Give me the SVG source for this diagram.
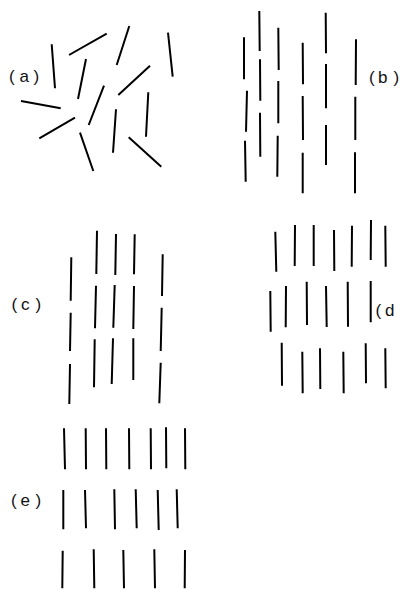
<svg xmlns="http://www.w3.org/2000/svg" width="400" height="590" viewBox="0 0 400 590">
<style>
.m{stroke:#000;stroke-width:2;fill:none;stroke-linecap:butt}
.lb{font-family:"Liberation Sans","DejaVu Sans",sans-serif;font-size:17px;fill:#111}
</style>
<rect width="400" height="590" fill="#fff"/>
<g id="panel-a">
<text class="lb" x="9 19.5 33.5" y="82">(a)</text>
<path class="m" d="M51.7,44.3L55,88.3M69,55L106.7,33.7M129.3,26L116.7,65M168,32.7L172.7,76.7M86,59L78,99M150,65.7L118.3,95M21,101L60.7,108.3M104,85.7L88.7,125M148.3,92.3L146,136.7M75,117.7L39.3,138.3M116,109.3L113,152.7M80,132.7L93.3,171M128.7,137.3L161.3,166.7"/>
</g>
<g id="panel-b">
<text class="lb" x="369 378 393.5" y="83">(b)</text>
<path class="m" d="M244,37.3L244,79.3M247,90.7L246,131.7M245,140.7L245.7,181.7
M259.3,11L259.7,51M260,59.3L260.3,100.7M260,112.7L260.3,156.7
M278.3,27.7L278.7,70M278.3,81L278.3,123.3M277.7,135.7L277.3,176.7
M302.7,42.7L303,84.3M302.7,96L303,140M302.7,152.7L302.7,193.3
M325.7,12.7L326,53.3M326,64L326,108.3M326,125L326,165
M356,39.3L355.7,85M355.3,96.7L355.3,140M355,152.3L355,193.3"/>
</g>
<g id="panel-c">
<text class="lb" x="11.5 21 35.5" y="310">(c)</text>
<path class="m" d="M71.3,257.3L70.7,300.7M70.7,312.7L70,351M70,364L69.3,404
M97,230.7L96.3,274M96,285.7L95,328.3M94.7,339.3L94,387.3
M116,234L115.3,275M114.7,285L113.3,327.7M113,338.3L111.7,384
M134.7,234.3L134,274.3M134,286L133.3,329M133.3,338.3L133.3,380
M162.7,254.3L162,296M161.7,307.7L160.7,351M160.7,362.7L159.3,403.3"/>
</g>
<g id="panel-d">
<text class="lb" x="375.5 385" y="315.5">(d</text>
<path class="m" d="M275.3,231.7L276.3,271.7M295,225L294.7,266M313.7,225L313.7,266M334,230L334.3,271M352,225.7L351.7,266.7M371,220L370.7,260M385.3,225.7L385.7,266.7
M270.3,291L270.7,331.7M286,286L285.7,327.3M306.7,281.7L307,325M326,286L326.7,327M347.7,281.7L348,326.7M370.7,281L370.7,322.3
M281.7,342.7L282,385.7M302.3,351.7L302.7,393.3M320,348.3L320.3,389M343.3,351.7L343.7,393.3M365.7,343.3L366,383.3M385.3,348.3L385.7,388.3"/>
</g>
<g id="panel-e">
<text class="lb" x="11 20.5 35.5" y="505.5">(e)</text>
<path class="m" d="M64,428.3L65,469.3M85.7,428.3L86,469.3M106,428.3L106.3,469.3M129,428.3L129.3,469.3M150.7,428.3L151,469.3M166,427.3L166.3,468.3M185,428.3L185.3,469.3
M63.3,490L63.3,529.3M85,490L86,528.3M114.3,489.3L115,529.3M135.7,489.3L136.7,528.3M157.7,490L158.7,530M176.7,489.3L177.7,528.3
M62.7,550.7L62.3,588.3M93.7,549.3L94.3,588.3M123.3,550L124,588.3M154.3,549.3L155,588.3M185,550L184.7,588.3"/>
</g>
</svg>
